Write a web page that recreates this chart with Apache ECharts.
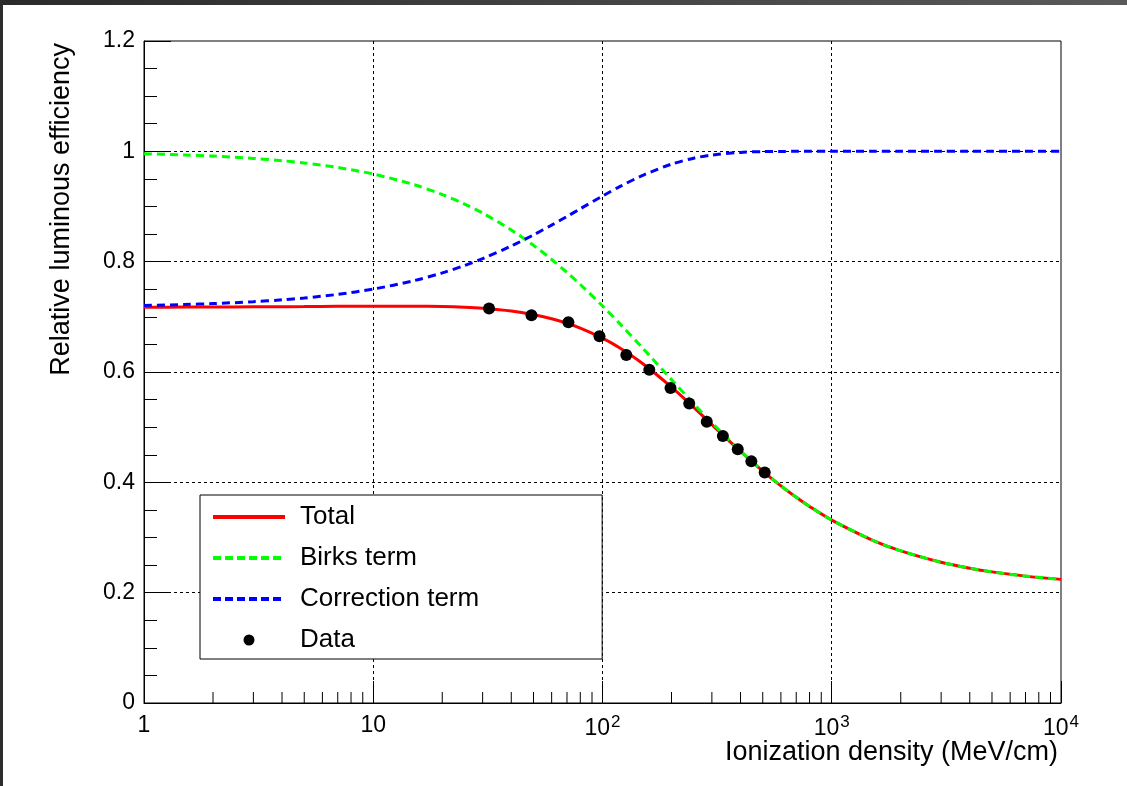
<!DOCTYPE html>
<html>
<head>
<meta charset="utf-8">
<script src="https://cdn.jsdelivr.net/npm/echarts@6/dist/echarts.min.js"></script>
<style>
  html, body { margin: 0; padding: 0; background: #fff; }
  #chart { width: 1127px; height: 786px; }
</style>
</head>
<body>
<div id="chart"></div>
<script>
// Ionization density samples (MeV/cm) for the model curves
const density = [1, 1.5, 2, 3, 4, 5, 7, 10, 15, 20, 25, 30, 40, 50, 60, 70, 80, 100, 120, 150,
  200, 250, 300, 400, 500, 600, 700, 800, 1000, 1500, 2000, 3000, 4000, 5000, 7000, 10000];

// Total relative luminous efficiency
const totalTerm = [0.7174, 0.7176, 0.7178, 0.7181, 0.7184, 0.7186, 0.7190, 0.7194, 0.7193, 0.7186,
  0.7173, 0.7154, 0.7104, 0.7039, 0.6965, 0.6883, 0.6796, 0.6613, 0.6426, 0.6150,
  0.5726, 0.5359, 0.5047, 0.4560, 0.4205, 0.3936, 0.3729, 0.3563, 0.3315, 0.2954,
  0.2758, 0.2551, 0.2443, 0.2377, 0.2300, 0.2241];

// Birks quenching term
const birksTerm = [0.9957, 0.9935, 0.9914, 0.9872, 0.9830, 0.9789, 0.9707, 0.9588, 0.9398, 0.9217,
  0.9045, 0.8881, 0.8575, 0.8296, 0.8040, 0.7804, 0.7586, 0.7197, 0.6859, 0.6429,
  0.5862, 0.5426, 0.5081, 0.4569, 0.4207, 0.3937, 0.3729, 0.3563, 0.3315, 0.2954,
  0.2758, 0.2551, 0.2443, 0.2377, 0.2300, 0.2241];

// Correction term
const correctionTerm = [0.7205, 0.7223, 0.7240, 0.7274, 0.7308, 0.7341, 0.7407, 0.7503, 0.7654, 0.7796,
  0.7930, 0.8055, 0.8284, 0.8485, 0.8663, 0.8820, 0.8959, 0.9189, 0.9369, 0.9566,
  0.9768, 0.9876, 0.9933, 0.9981, 0.9995, 0.9998, 1.0, 1.0, 1.0, 1.0,
  1.0, 1.0, 1.0, 1.0, 1.0, 1.0];

// Measured points
const dataDensity = [32, 49, 71, 97, 127, 160, 198, 239, 285, 335, 389, 446, 510];
const dataEfficiency = [0.715, 0.703, 0.690, 0.665, 0.631, 0.604, 0.571, 0.543, 0.510, 0.484, 0.460, 0.438, 0.418];

// Axis ticks
const yTickValues = [0, 0.2, 0.4, 0.6, 0.8, 1, 1.2];
const xDecades = [1, 10, 100, 1000, 10000];

const FONT = '"Liberation Sans", Arial, Helvetica, sans-serif';
const RED = '#ff0000', GREEN = '#00ff00', BLUE = '#0000ff';

const pairs = (xs, ys) => xs.map((x, i) => [x, ys[i]]);

// minor log ticks: 2..9 inside each decade
const minorX = [];
for (let d = 0; d < xDecades.length - 1; d++) {
  for (let m = 2; m <= 9; m++) minorX.push([m * xDecades[d], 0]);
}

const noMarker = { color: 'rgba(0,0,0,0)', opacity: 0, borderWidth: 0 };

const chart = echarts.init(document.getElementById('chart'), null, { renderer: 'canvas' });

chart.setOption({
  backgroundColor: '#ffffff',
  animation: false,
  grid: {
    left: 144, right: 66, top: 41, bottom: 83,
    show: true, borderColor: '#000', borderWidth: 1, backgroundColor: 'transparent'
  },
  xAxis: {
    type: 'log',
    logBase: 10,
    min: xDecades[0],
    max: xDecades[xDecades.length - 1],
    axisLine: { lineStyle: { color: '#000', width: 1 } },
    axisTick: { show: true, inside: true, length: 22, lineStyle: { color: '#000' } },
    splitLine: { show: true, showMinLine: false, showMaxLine: false,
      lineStyle: { color: '#000', type: [3, 3], width: 1 } },
    axisLabel: {
      margin: 11,
      color: '#000',
      fontFamily: FONT,
      fontSize: 23,
      formatter: (v) => {
        const e = Math.round(Math.log10(v));
        if (e === 0) return '{base|1}';
        if (e === 1) return '{base|10}';
        return '{base|10}{sup|' + e + '}';
      },
      rich: {
        base: { fontSize: 23, fontFamily: FONT, color: '#000' },
        sup: { fontSize: 17, fontFamily: FONT, color: '#000', verticalAlign: 'top', padding: [0, 0, 12, 1] }
      }
    }
  },
  yAxis: {
    type: 'value',
    min: yTickValues[0],
    max: yTickValues[yTickValues.length - 1],
    interval: 0.2,
    axisLine: { show: true, lineStyle: { color: '#000', width: 1 } },
    axisTick: { show: true, inside: true, length: 27, lineStyle: { color: '#000' } },
    minorTick: { show: true, splitNumber: 4, length: 13, lineStyle: { color: '#000' } },
    splitLine: { show: true, showMinLine: false, showMaxLine: false,
      lineStyle: { color: '#000', type: [3, 3], width: 1 } },
    axisLabel: {
      margin: 9, color: '#000', fontFamily: FONT, fontSize: 23,
      formatter: (v) => String(+v.toFixed(1))
    }
  },
  legend: {
    orient: 'vertical',
    left: 200,
    top: 495,
    padding: [9, 123, 6, 11],
    itemGap: 15,
    itemWidth: 72,
    itemHeight: 11,
    backgroundColor: '#fff',
    borderColor: '#000',
    borderWidth: 1,
    borderRadius: 0,
    textStyle: { fontFamily: FONT, fontSize: 26, color: '#000', lineHeight: 26, padding: [0, 0, 0, 10] },
    data: [
      { name: 'Total', itemStyle: noMarker, lineStyle: { color: RED, width: 4 } },
      { name: 'Birks term', itemStyle: noMarker, lineStyle: { color: GREEN, width: 4, type: [8, 4] } },
      { name: 'Correction term', itemStyle: noMarker, lineStyle: { color: BLUE, width: 4, type: [8, 4] } },
      { name: 'Data', icon: 'circle', itemStyle: { color: '#000', opacity: 1 } }
    ]
  },
  graphic: [
    {
      type: 'rect', left: 0, top: 0, silent: true,
      shape: { width: 1127, height: 5 },
      style: { fill: new echarts.graphic.LinearGradient(0, 0, 1, 0, [
        { offset: 0, color: '#2a2a2a' }, { offset: 1, color: '#5a5a5a' }]) }
    },
    {
      type: 'rect', left: 0, top: 0, silent: true,
      shape: { width: 3, height: 786 },
      style: { fill: '#2c2c2c' }
    },
    {
      type: 'text', silent: true,
      x: 1058, y: 753,
      style: { text: 'Ionization density (MeV/cm)', fontFamily: FONT, fontSize: 27,
        fill: '#000', align: 'right', verticalAlign: 'middle' }
    },
    {
      type: 'text', silent: true,
      x: 62, y: 43, rotation: Math.PI / 2,
      style: { text: 'Relative luminous efficiency', fontFamily: FONT, fontSize: 27,
        fill: '#000', align: 'right', verticalAlign: 'middle' }
    }
  ],
  series: [
    {
      name: 'Total', type: 'line', data: pairs(density, totalTerm),
      symbol: 'none', smooth: 0.3, z: 3,
      lineStyle: { color: RED, width: 3 },
      itemStyle: { color: RED }
    },
    {
      name: 'Birks term', type: 'line', data: pairs(density, birksTerm),
      symbol: 'none', smooth: 0.3, z: 4,
      lineStyle: { color: GREEN, width: 3, type: [8, 5] },
      itemStyle: { color: GREEN }
    },
    {
      name: 'Correction term', type: 'line', data: pairs(density, correctionTerm),
      symbol: 'none', smooth: 0.3, z: 4,
      lineStyle: { color: BLUE, width: 3, type: [8, 5] },
      itemStyle: { color: BLUE }
    },
    {
      name: 'Data', type: 'scatter', data: pairs(dataDensity, dataEfficiency),
      symbol: 'circle', symbolSize: 12, z: 5,
      itemStyle: { color: '#000', opacity: 1 }
    },
    {
      name: 'minor-x', type: 'custom', data: minorX, z: 6, silent: true,
      renderItem: (params, api) => {
        const p = api.coord([api.value(0), api.value(1)]);
        return { type: 'line', shape: { x1: p[0], y1: p[1], x2: p[0], y2: p[1] - 11 },
          style: { stroke: '#000', lineWidth: 1 } };
      }
    }
  ]
});
</script>
</body>
</html>
